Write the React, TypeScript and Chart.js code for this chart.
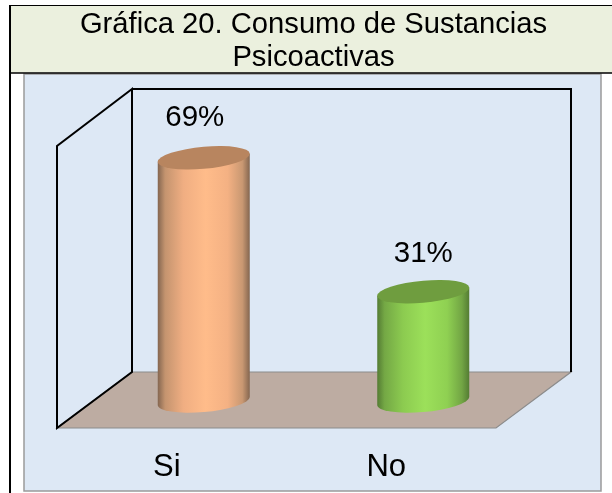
import React, { useEffect, useRef } from "react";
import { Chart, registerables } from "chart.js";

Chart.register(...registerables);

const categories = ["Si", "No"];
const percentages = [69, 31];
const titleLines = ["Gráfica 20. Consumo de Sustancias", "Psicoactivas"];

const FONT = "'Liberation Sans', Arial, sans-serif";
const BAR_STOPS = [
  ["#846650", "#c4946f", "#f0ae82", "#ffbc8a", "#f4b183", "#c99872", "#846650"],
  ["#547c33", "#74a845", "#8ccb50", "#9ce05a", "#8fd052", "#72a544", "#547c33"],
];
const BAR_LIGHT = ["#ffbc8a", "#9ce05a"];
const BAR_CAP = ["#b8855f", "#6f9d3f"];
const DEPTH_X = 37;
const DEPTH_Y = 27;
const LABEL_SHIFT_X = [-9, 0];
const LABEL_SHIFT_Y = [0, 2.5];
const STOP_AT = [0, 0.08, 0.28, 0.52, 0.76, 0.92, 1];

const roomPlugin = {
  id: "room",
  beforeDraw(chart: any) {
    const { ctx, chartArea: a } = chart;
    const W = chart.width;
    ctx.save();
    ctx.fillStyle = "#ffffff";
    ctx.fillRect(0, 0, W, chart.height);
    ctx.fillStyle = "#ebf0de";
    ctx.fillRect(10, 5, W - 10, 68);

    ctx.fillStyle = "#dde8f5";
    ctx.fillRect(24, 74, 577, 417);
    ctx.strokeStyle = "#9a9a9a";
    ctx.lineWidth = 1.5;
    ctx.strokeRect(24, 74, 577, 417);

    ctx.strokeStyle = "#000000";
    ctx.lineWidth = 1;
    ctx.beginPath();
    ctx.moveTo(10, 5.5);
    ctx.lineTo(W, 5.5);
    ctx.stroke();
    ctx.lineWidth = 1.5;
    ctx.beginPath();
    ctx.moveTo(10, 73);
    ctx.lineTo(W, 73);
    ctx.stroke();
    ctx.lineWidth = 2;
    ctx.beginPath();
    ctx.moveTo(10, 5);
    ctx.lineTo(10, chart.height);
    ctx.stroke();

    const L = a.left, R = a.right, T = a.top, B = a.bottom;
    const backL = L + 75, backR = R + 75, backB = B - 56, backT = T - 57;

    ctx.fillStyle = "#bdaca2";
    ctx.strokeStyle = "#8c8c8c";
    ctx.lineWidth = 1.2;
    ctx.beginPath();
    ctx.moveTo(L, B);
    ctx.lineTo(backL, backB);
    ctx.lineTo(backR, backB);
    ctx.lineTo(R, B);
    ctx.closePath();
    ctx.fill();
    ctx.stroke();

    ctx.strokeStyle = "#000000";
    ctx.lineWidth = 2;
    ctx.beginPath();
    ctx.moveTo(L, B);
    ctx.lineTo(L, T);
    ctx.lineTo(backL, backT);
    ctx.lineTo(backL, backB);
    ctx.closePath();
    ctx.moveTo(backL, backT);
    ctx.lineTo(backR, backT);
    ctx.lineTo(backR, backB);
    ctx.stroke();
    ctx.restore();
  },
  beforeDatasetDraw(chart: any, args: any) {
    const { ctx } = chart;
    const meta = chart.getDatasetMeta(args.index);
    meta.data.forEach((el: any, i: number) => {
      const hw = el.width / 2;
      const b = 11;
      const k = -4;
      const h = el.base - el.y;
      ctx.save();
      ctx.transform(1, k / hw, 0, 1, el.x + DEPTH_X, el.y - DEPTH_Y);
      const g = ctx.createLinearGradient(-hw, 0, hw, 0);
      STOP_AT.forEach((at, s) => g.addColorStop(at, BAR_STOPS[i][s]));
      ctx.fillStyle = g;
      ctx.beginPath();
      ctx.moveTo(-hw, 0);
      ctx.lineTo(hw, 0);
      ctx.lineTo(hw, h);
      ctx.ellipse(0, h, hw, b, 0, 0, Math.PI);
      ctx.closePath();
      ctx.fill();
      ctx.fillStyle = BAR_CAP[i];
      ctx.beginPath();
      ctx.ellipse(0, 0, hw, b, 0, 0, Math.PI * 2);
      ctx.fill();
      ctx.restore();
    });
    return false;
  },
  afterDatasetsDraw(chart: any) {
    const { ctx } = chart;
    const meta = chart.getDatasetMeta(0);
    ctx.save();
    ctx.fillStyle = "#000000";
    ctx.font = `29.5px ${FONT}`;
    ctx.textAlign = "center";
    ctx.textBaseline = "alphabetic";
    meta.data.forEach((el: any, i: number) => {
      ctx.fillText(
        `${percentages[i]}%`,
        el.x + DEPTH_X + LABEL_SHIFT_X[i],
        el.y - DEPTH_Y - 32 + LABEL_SHIFT_Y[i]
      );
    });
    ctx.restore();
  },
};

export default function App() {
  const ref = useRef<HTMLCanvasElement>(null);
  useEffect(() => {
    const chart = new Chart(ref.current as HTMLCanvasElement, {
      type: "bar",
      data: {
        labels: categories,
        datasets: [
          {
            data: percentages,
            backgroundColor: BAR_LIGHT,
            barThickness: 92,
          },
        ],
      },
      options: {
        responsive: false,
        animation: false,
        layout: { padding: { left: 15 } },
        plugins: {
          legend: { display: false },
          tooltip: { enabled: false },
          title: {
            display: true,
            text: titleLines,
            color: "#000000",
            font: { family: FONT, size: 29.2, weight: "normal", lineHeight: 33 / 29.2 },
            padding: { top: 8.5, bottom: 71.5 },
          },
        },
        scales: {
          x: {
            grid: { display: false, drawTicks: false },
            border: { display: false },
            afterFit: (s: any) => { s.height = 65; },
            ticks: {
              color: "#000000",
              font: { family: FONT, size: 31 },
              padding: 21,
              maxRotation: 0,
            },
          },
          y: {
            min: 0,
            max: 80,
            grid: { display: false, drawTicks: false },
            border: { display: false },
            ticks: { display: false },
            afterFit: (s: any) => { s.width = 42; },
          },
          yRight: {
            position: "right",
            grid: { display: false, drawTicks: false },
            border: { display: false },
            ticks: { display: false },
            afterFit: (s: any) => { s.width = 116; },
          },
        },
      } as any,
      plugins: [roomPlugin],
    });
    return () => chart.destroy();
  }, []);
  return (
    <div style={{ position: "fixed", left: 0, top: 0, width: 612, height: 493 }}>
      <canvas ref={ref} width={612} height={493} style={{ display: "block" }} />
    </div>
  );
}
